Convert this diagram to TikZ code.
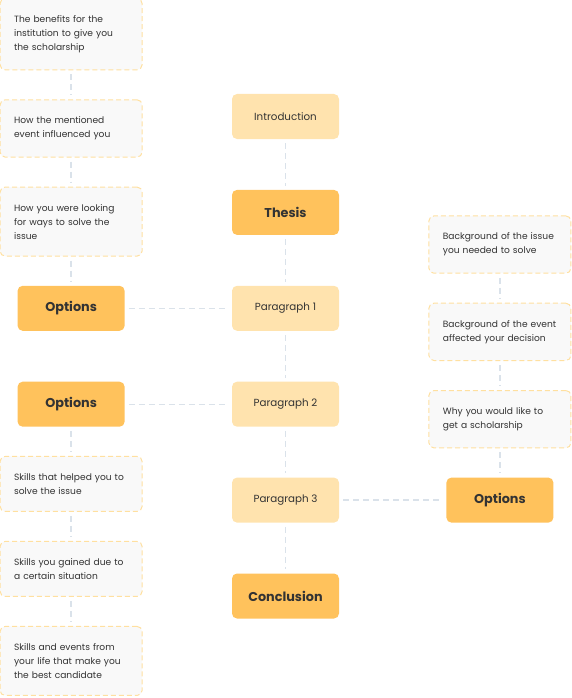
\documentclass[tikz,border=0pt]{standalone}
\usepackage{fontspec}
\setmainfont{Poppins}
\usetikzlibrary{positioning}
\definecolor{partcol}{RGB}{255,227,174}
\definecolor{keycol}{RGB}{255,194,92}
\definecolor{notecol}{RGB}{249,249,249}
\definecolor{noteedge}{RGB}{255,224,160}
\definecolor{linkcol}{RGB}{218,226,234}
\definecolor{inkcol}{RGB}{51,51,51}

\begin{document}
\begin{tikzpicture}[
  x=1pt, y=1pt,
  node distance=50.5pt and 107pt,
  every node/.style={text=inkcol},
  box/.style={rounded corners=5pt, minimum width=107pt, minimum height=45pt, align=center},
  part/.style={box, fill=partcol, font=\fontsize{10.3}{12}\selectfont},
  key/.style={box, fill=keycol, font=\fontsize{12.8}{15}\selectfont\bfseries},
  note/.style={draw=noteedge, line width=1pt, dash pattern=on 5pt off 3pt, fill=notecol,
    rounded corners=5pt, text width=114pt, inner xsep=14pt, inner ysep=17pt,
    align=left, font=\fontsize{9.1}{14}\selectfont},
  link/.style={draw=linkcol, line width=1.3pt, dash pattern=on 6pt off 4pt,
    shorten <=4pt, shorten >=4pt},
]
  \useasboundingbox (0,0) rectangle (572,-698);
  % essay outline, centre column
  \node[part] (intro) at (285.5,-116.5) {Introduction};
  \node[key, below=of intro] (thesis) {Thesis};
  \node[part, below=of thesis] (par1) {Paragraph 1};
  \node[part, below=of par1] (par2) {Paragraph 2};
  \node[part, below=of par2] (par3) {Paragraph 3};
  \node[key, below=of par3] (concl) {Conclusion};
  % options per paragraph
  \node[key, left=of par1] (optA) {Options};
  \node[key, left=of par2] (optB) {Options};
  \node[key, right=of par3] (optC) {Options};
  % notes for paragraph 1
  \node[note, above=29pt of optA] (looking) {How you were looking\\for ways to solve the\\issue};
  \node[note, above=29pt of looking] (event) {How the mentioned\\event influenced you};
  \node[note, above=29pt of event] (benefits) {The benefits for the\\institution to give you\\the scholarship};
  % notes for paragraph 2
  \node[note, below=29pt of optB] (helped) {Skills that helped you to\\solve the issue};
  \node[note, below=29pt of helped] (gained) {Skills you gained due to\\a certain situation};
  \node[note, below=29pt of gained] (best) {Skills and events from\\your life that make you\\the best candidate};
  % notes for paragraph 3
  \node[note, above=29pt of optC] (why) {Why you would like to\\get a scholarship};
  \node[note, above=29pt of why] (bgevent) {Background of the event\\affected your decision};
  \node[note, above=29pt of bgevent] (bgissue) {Background of the issue\\you needed to solve};
  % links
  \draw[link] (intro) -- (thesis);
  \draw[link] (thesis) -- (par1);
  \draw[link] (par1) -- (par2);
  \draw[link] (par2) -- (par3);
  \draw[link] (par3) -- (concl);
  \draw[link] (optA) -- (par1);
  \draw[link] (optB) -- (par2);
  \draw[link] (par3) -- (optC);
  \draw[link] (benefits) -- (event);
  \draw[link] (event) -- (looking);
  \draw[link] (looking) -- (optA);
  \draw[link] (optB) -- (helped);
  \draw[link] (helped) -- (gained);
  \draw[link] (gained) -- (best);
  \draw[link] (bgissue) -- (bgevent);
  \draw[link] (bgevent) -- (why);
  \draw[link] (why) -- (optC);
\end{tikzpicture}
\end{document}
